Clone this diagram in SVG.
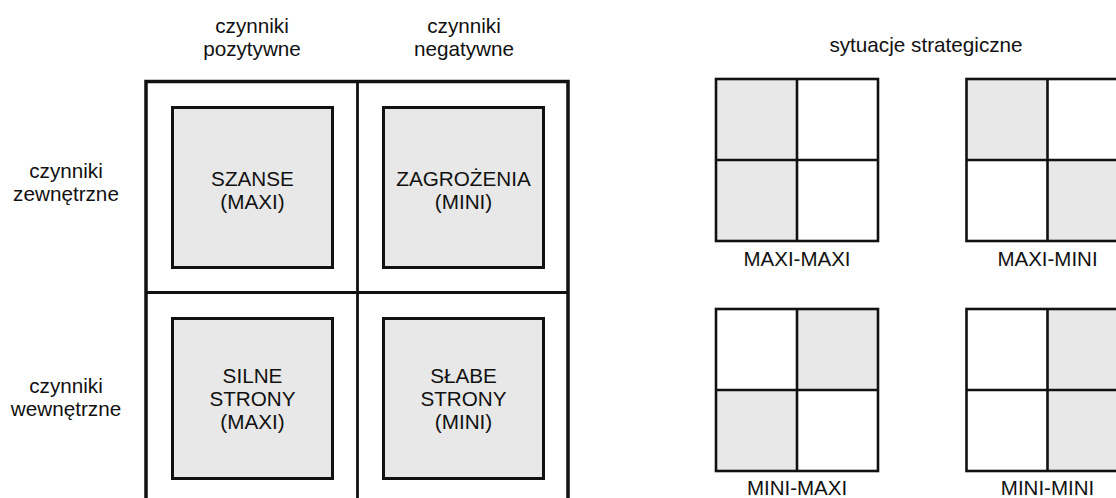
<svg xmlns="http://www.w3.org/2000/svg" width="1116" height="498" viewBox="0 0 1116 498">
  <style>
    text { font-family: "Liberation Sans", Arial, sans-serif; font-size: 20.7px; fill: #111; text-anchor: middle; }
    .frame { fill: none; stroke: #111; stroke-width: 3.5; }
    .div { stroke: #111; stroke-width: 2.8; }
    .box { fill: #e8e8e8; stroke: #111; stroke-width: 3; }
    .sq { fill: #fff; stroke: #111; stroke-width: 2.6; }
    .g { fill: #e8e8e8; }
    .w { fill: #fff; }
    .ln { stroke: #111; stroke-width: 2.6; }
  </style>

  <g id="headers">
    <text x="252" y="33">czynniki</text>
    <text x="252" y="56">pozytywne</text>
    <text x="464" y="33">czynniki</text>
    <text x="464" y="56">negatywne</text>
    <text x="66" y="178">czynniki</text>
    <text x="66" y="201">zewnętrzne</text>
    <text x="66" y="393">czynniki</text>
    <text x="66" y="416">wewnętrzne</text>
    <text x="926" y="52">sytuacje strategiczne</text>
  </g>

  <g id="matrix">
    <rect class="frame" x="146" y="81.5" width="422" height="422"/>
    <line class="div" x1="357.5" y1="81.5" x2="357.5" y2="503.5"/>
    <line class="div" x1="146" y1="292.5" x2="568" y2="292.5"/>
  </g>

  <g id="szanse">
    <rect class="box" x="172.5" y="107.5" width="160" height="160"/>
    <text x="252.5" y="185.5">SZANSE</text>
    <text x="252.5" y="208.5">(MAXI)</text>
  </g>
  <g id="zagrozenia">
    <rect class="box" x="383.5" y="107.5" width="160" height="160"/>
    <text x="463.5" y="185.5">ZAGROŻENIA</text>
    <text x="463.5" y="208.5">(MINI)</text>
  </g>
  <g id="silne-strony">
    <rect class="box" x="172.5" y="318.5" width="160" height="160"/>
    <text x="252.5" y="382.5">SILNE</text>
    <text x="252.5" y="405.5">STRONY</text>
    <text x="252.5" y="428.5">(MAXI)</text>
  </g>
  <g id="slabe-strony">
    <rect class="box" x="383.5" y="318.5" width="160" height="160"/>
    <text x="463.5" y="382.5">SŁABE</text>
    <text x="463.5" y="405.5">STRONY</text>
    <text x="463.5" y="428.5">(MINI)</text>
  </g>

  <g id="maxi-maxi">
    <rect class="g" x="716" y="79" width="81" height="162"/>
    <rect class="sq" x="716" y="79" width="162" height="162" fill="none" style="fill:none"/>
    <line class="ln" x1="797" y1="79" x2="797" y2="241"/>
    <line class="ln" x1="716" y1="160" x2="878" y2="160"/>
    <text x="797" y="265.5" style="font-size:20.5px">MAXI-MAXI</text>
  </g>
  <g id="maxi-mini">
    <rect class="g" x="966.5" y="79" width="81" height="81"/>
    <rect class="g" x="1047.5" y="160" width="81" height="81"/>
    <rect class="sq" x="966.5" y="79" width="162" height="162" style="fill:none"/>
    <line class="ln" x1="1047.5" y1="79" x2="1047.5" y2="241"/>
    <line class="ln" x1="966.5" y1="160" x2="1128.5" y2="160"/>
    <text x="1047.5" y="265.5" style="font-size:20.5px">MAXI-MINI</text>
  </g>
  <g id="mini-maxi">
    <rect class="g" x="797" y="309" width="81" height="81"/>
    <rect class="g" x="716" y="390" width="81" height="81"/>
    <rect class="sq" x="716" y="309" width="162" height="162" style="fill:none"/>
    <line class="ln" x1="797" y1="309" x2="797" y2="471"/>
    <line class="ln" x1="716" y1="390" x2="878" y2="390"/>
    <text x="797" y="495" style="font-size:20.5px">MINI-MAXI</text>
  </g>
  <g id="mini-mini">
    <rect class="g" x="1047.5" y="309" width="81" height="162"/>
    <rect class="sq" x="966.5" y="309" width="162" height="162" style="fill:none"/>
    <line class="ln" x1="1047.5" y1="309" x2="1047.5" y2="471"/>
    <line class="ln" x1="966.5" y1="390" x2="1128.5" y2="390"/>
    <text x="1047.5" y="495" style="font-size:20.5px">MINI-MINI</text>
  </g>

  <g id="connectors"></g>
</svg>
